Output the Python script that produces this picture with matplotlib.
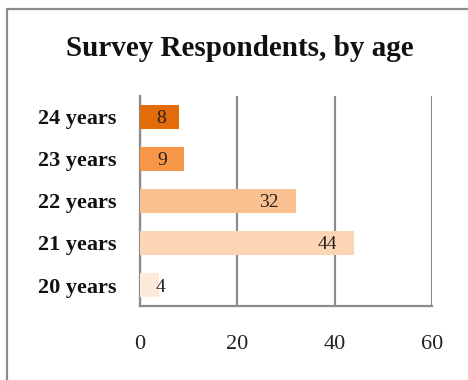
import matplotlib
matplotlib.use("Agg")
import matplotlib.pyplot as plt
from matplotlib.patches import Rectangle

categories = ["20 years", "21 years", "22 years", "23 years", "24 years"]
values = [4, 44, 32, 9, 8]
colors = ["#FDEADA", "#FCD5B5", "#FAC090", "#F79646", "#E36C09"]
xticks = [0, 20, 40, 60]
title = "Survey Respondents, by age"

plt.rcParams['font.family'] = ['Liberation Serif', 'DejaVu Serif']

fig = plt.figure(figsize=(4.68, 3.80), dpi=100)
W, H = 468, 380
ax = fig.add_axes([140 / W, 1 - 306 / H, (432 - 140) / W, (306 - 96) / H])

ypos = list(range(len(categories)))
ax.barh(ypos, values, height=0.59, color=colors, zorder=3)
ax.set_xlim(0, 60)
ax.set_ylim(-0.5, len(categories) - 0.5)
ax.set_xticks(xticks)
ax.set_xticklabels([str(t) for t in xticks], fontsize=16, color="#222222")
ax.set_yticks(ypos)
ax.set_yticklabels(categories, fontsize=16, fontweight="bold", color="#111111")
ax.tick_params(axis="both", length=0)
ax.tick_params(axis="x", pad=21)
ax.tick_params(axis="y", pad=17)
ax.grid(axis="x", color="#8c8c8c", linewidth=1.6, zorder=0)
for s in ["top", "right"]:
    ax.spines[s].set_visible(False)
for s in ["left", "bottom"]:
    ax.spines[s].set_color("#8c8c8c")
    ax.spines[s].set_linewidth(1.6)

for y, v in zip(ypos, values):
    if v >= 20:
        ax.annotate(str(v), (v, y), xytext=(-17, 0), textcoords="offset pixels",
                    ha="right", va="center_baseline", fontsize=14, color="#222222", zorder=4)
    else:
        ax.text(max(v / 2, 4.3), y, str(v), ha="center", va="center_baseline",
                fontsize=14, color="#222222", zorder=4)

fig.text(240 / W, 1 - 45 / H, title, ha="center", va="center_baseline",
         fontsize=21, fontweight="bold", color="#111111")

fig.patches.append(Rectangle((7 / W, -0.1), 1.2, 1 - 9 / H + 0.1,
                             transform=fig.transFigure, fill=False,
                             edgecolor="#8c8c8c", linewidth=1.6))

fig.savefig("out.png", dpi=100)
